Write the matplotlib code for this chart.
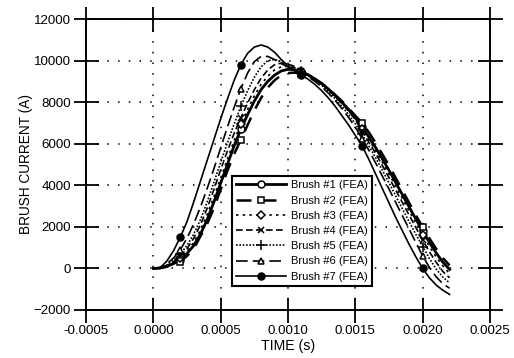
import numpy as np
import matplotlib
matplotlib.use("Agg")
import matplotlib.pyplot as plt

plt.rcParams['font.family'] = ['Liberation Sans', 'DejaVu Sans']

# time grid (s), step 0.00005 from 0 to 0.0022
time_s = np.round(np.arange(45) * 0.00005, 6)

brush1 = [0, 20, 100, 230, 420, 720, 1100, 1650, 2350, 3200, 4100, 5000, 5900, 6700, 7400,
          8050, 8600, 9000, 9300, 9500, 9580, 9560, 9450,
          9300, 9120, 8900, 8630, 8330, 8000, 7650, 7250, 6800, 6330, 5820, 5280, 4720, 4130,
          3540, 2950, 2370, 1800, 1250, 750, 300, -50]
brush2 = [0, 20, 80, 180, 330, 600, 950, 1550, 2150, 2900, 3800, 4700, 5500, 6200, 6900,
          7600, 8200, 8700, 9050, 9300, 9400, 9420, 9350,
          9250, 9100, 8900, 8650, 8350, 8050, 7700, 7350, 7000, 6550, 6050, 5500, 4950, 4350,
          3750, 3150, 2550, 2000, 1450, 950, 500, 150]
brush3 = [0, 30, 120, 270, 500, 820, 1250, 1850, 2600, 3450, 4350, 5250, 6150, 6950, 7650,
          8300, 8850, 9250, 9550, 9700, 9720, 9650, 9500,
          9330, 9130, 8900, 8620, 8300, 7960, 7590, 7180, 6700, 6200, 5680, 5120, 4540, 3950,
          3350, 2760, 2170, 1600, 1050, 550, 120, -250]
brush4 = [0, 30, 140, 320, 600, 950, 1450, 2100, 2900, 3800, 4750, 5650, 6500, 7250, 7950,
          8600, 9150, 9550, 9800, 9880, 9830, 9720, 9520,
          9340, 9130, 8890, 8600, 8280, 7940, 7570, 7160, 6600, 6080, 5540, 4960, 4370, 3770,
          3160, 2560, 1960, 1350, 800, 300, -150, -450]
brush5 = [0, 40, 170, 380, 700, 1100, 1650, 2350, 3200, 4150, 5100, 6050, 6950, 7800, 8550,
          9200, 9700, 10000, 10050, 9950, 9800, 9650, 9450,
          9270, 9060, 8810, 8510, 8170, 7800, 7400, 6960, 6450, 5900, 5330, 4730, 4120, 3490,
          2860, 2240, 1630, 1050, 480, -30, -420, -700]
brush6 = [0, 40, 220, 500, 900, 1450, 2150, 2950, 3850, 4800, 5800, 6800, 7750, 8650, 9400,
          9950, 10200, 10200, 10050, 9850, 9700, 9550, 9400,
          9220, 9000, 8740, 8430, 8080, 7690, 7260, 6790, 6250, 5690, 5080, 4450, 3820, 3170,
          2530, 1890, 1240, 600, 50, -400, -740, -950]
brush7 = [0, 30, 350, 850, 1500, 2250, 3200, 4200, 5200, 6200, 7200, 8150, 9050, 9800, 10350,
          10650, 10750, 10650, 10400, 10050, 9750, 9500, 9300,
          9100, 8850, 8550, 8200, 7800, 7350, 6900, 6400, 5900, 5250, 4550, 3850, 3150, 2450,
          1800, 1150, 550, 0, -450, -800, -1050, -1250]

labels = ["Brush #1 (FEA)", "Brush #2 (FEA)", "Brush #3 (FEA)", "Brush #4 (FEA)",
          "Brush #5 (FEA)", "Brush #6 (FEA)", "Brush #7 (FEA)"]
series = [brush1, brush2, brush3, brush4, brush5, brush6, brush7]

xticks = [-0.0005, 0.0, 0.0005, 0.0010, 0.0015, 0.0020, 0.0025]
xtick_labels = ["-0.0005", "0.0000", "0.0005", "0.0010", "0.0015", "0.0020", "0.0025"]
yticks = [-2000, 0, 2000, 4000, 6000, 8000, 10000, 12000]

styles = [
    dict(ls='-', lw=2.0, marker='o', mfc='white'),
    dict(ls=(0, (6, 4)), lw=1.8, marker='s', mfc='white'),
    dict(ls=(0, (1.5, 2.5)), lw=1.2, marker='D', mfc='white', ms=4),
    dict(ls=(0, (4, 2)), lw=1.2, marker='x'),
    dict(ls=(0, (1, 1)), lw=1.2, marker='+', ms=7),
    dict(ls=(0, (7, 3)), lw=1.2, marker='^', mfc='white'),
    dict(ls='-', lw=1.2, marker='o', mfc='black'),
]

fig = plt.figure(figsize=(5.14, 3.58), dpi=100)
ax = fig.add_axes([86/514, 1-310/358, 404/514, 291/358])

for vals, lab, st in zip(series, labels, styles):
    st = dict(st)
    ms = st.pop('ms', 5)
    ax.plot(time_s, vals, color='black', label=lab, markevery=(4, 9), ms=ms,
            mec='black', mew=1.1, **st)

ax.set_xlim(-0.0005, 0.0025)
ax.set_ylim(-2000, 12000)
ax.set_xticks(xticks)
ax.set_xticklabels(xtick_labels)
ax.set_yticks(yticks)
ax.grid(True, color='black', ls=(0, (1, 6)), lw=1.1)
ax.tick_params(direction='inout', length=18, width=1.3, labelsize=9.6, pad=2,
               top=True, right=True, colors='black')
for s in ax.spines.values():
    s.set_linewidth(1.4)

ax.set_xlabel("TIME (s)", fontsize=10.2, labelpad=1)
ax.set_ylabel("BRUSH CURRENT (A)", fontsize=9.8, labelpad=0)

leg = ax.legend(loc='lower left', bbox_to_anchor=(0.361, 0.082), borderaxespad=0,
                fontsize=8, frameon=True, fancybox=False, framealpha=1,
                edgecolor='black', handlelength=4.5, handletextpad=0.4,
                labelspacing=0.47, borderpad=0.4)
leg.get_frame().set_linewidth(1.5)

fig.savefig("out.png", dpi=100)
